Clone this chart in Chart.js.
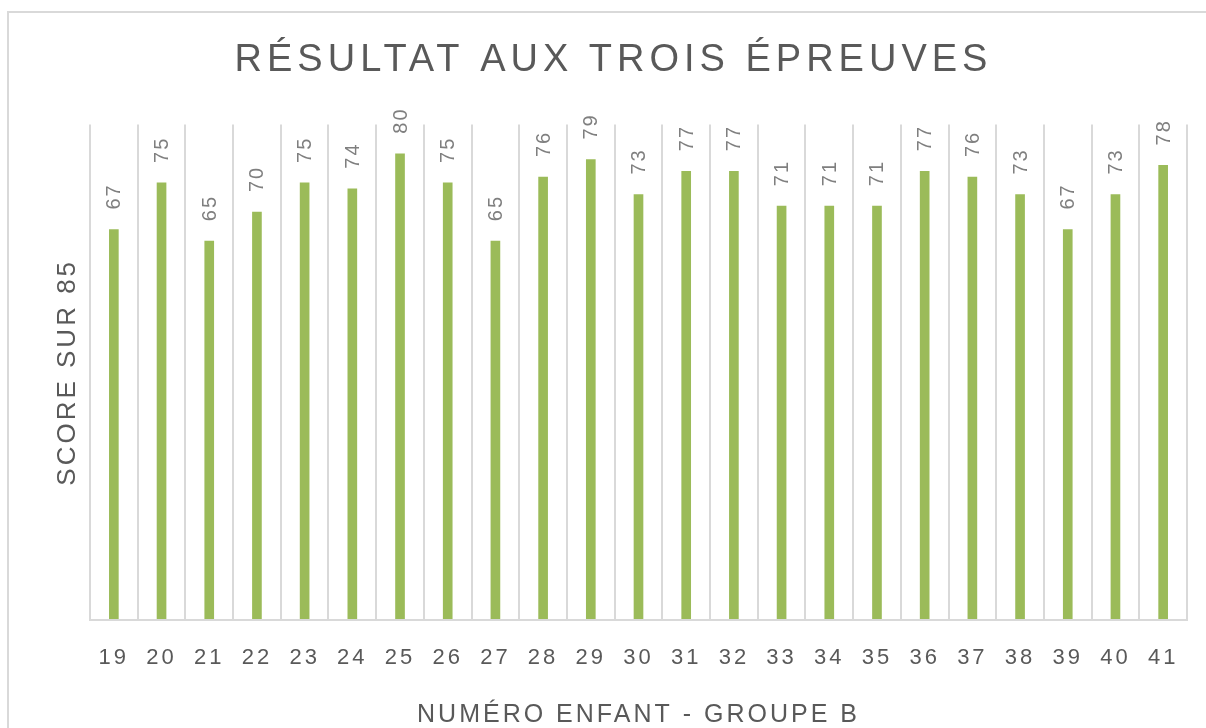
<!DOCTYPE html>
<html>
<head>
<meta charset="utf-8">
<script src="https://cdn.jsdelivr.net/npm/chart.js@4.4.0/dist/chart.umd.min.js"></script>
<style>
  html, body { margin: 0; padding: 0; background: #fff; overflow: hidden; }
  #frame { position: absolute; left: 7px; top: 11px; width: 1300px; height: 900px; border: 2px solid #d9d9d9; }
  #wrap { position: absolute; left: 0; top: 0; width: 1206px; height: 728px; }
</style>
</head>
<body>
<div id="frame"></div>
<div id="wrap"><canvas id="scoreChart"></canvas></div>
<script>
// numéros des enfants du groupe B
const enfants = ['19', '20', '21', '22', '23', '24', '25', '26', '27', '28', '29', '30',
                 '31', '32', '33', '34', '35', '36', '37', '38', '39', '40', '41'];
// score sur 85
const scores = [67, 75, 65, 70, 75, 74, 80, 75, 65, 76, 79, 73,
                77, 77, 71, 71, 71, 77, 76, 73, 67, 73, 78];

const FONT = "'Liberation Sans', Arial, sans-serif";

// espacement des lettres (canvas letterSpacing) + étiquettes de données verticales
const spacingPlugin = {
    id: 'spacing',
    beforeDraw(chart) {
        chart.ctx.letterSpacing = '5px';
    },
    afterDatasetsDraw(chart) {
        const ctx = chart.ctx;
        const meta = chart.getDatasetMeta(0);
        ctx.save();
        ctx.letterSpacing = '2px';
        ctx.font = '20px ' + FONT;
        ctx.fillStyle = '#7f7f7f';
        ctx.textAlign = 'left';
        ctx.textBaseline = 'middle';
        meta.data.forEach(function(bar, i) {
            ctx.save();
            ctx.translate(bar.x + 1, bar.y - 20);
            ctx.rotate(-Math.PI / 2);
            ctx.fillText(String(scores[i]), 0, 0);
            ctx.restore();
        });
        ctx.restore();
        // ticks + titres d'axes dessinés après (z > 0)
        ctx.letterSpacing = '3px';
    }
};

function initializeChart() {
    const ctx = document.getElementById('scoreChart').getContext('2d');
    new Chart(ctx, {
        type: 'bar',
        data: {
            labels: enfants,
            datasets: [{
                label: 'Score',
                data: scores,
                backgroundColor: '#9bbb59',
                borderWidth: 0,
                barThickness: 9
            }]
        },
        options: {
            responsive: true,
            maintainAspectRatio: false,
            animation: false,
            layout: { padding: { left: 40, right: 19, top: 0, bottom: 0 } },
            plugins: {
                legend: { display: false },
                tooltip: { enabled: false },
                title: {
                    display: true,
                    text: 'RÉSULTAT AUX TROIS ÉPREUVES',
                    color: '#595959',
                    font: { family: FONT, size: 38, weight: 'normal', lineHeight: 1.2 },
                    padding: { top: 38, bottom: 41 }
                }
            },
            scales: {
                x: {
                    grid: { color: '#d9d9d9', lineWidth: 2, drawTicks: false, offset: true, z: 1 },
                    border: { color: '#d9d9d9', width: 2, z: 1 },
                    ticks: {
                        color: '#595959',
                        font: { family: FONT, size: 22 },
                        padding: 25,
                        maxRotation: 0,
                        autoSkip: false,
                        z: 2
                    },
                    title: {
                        display: true,
                        text: 'NUMÉRO ENFANT - GROUPE B',
                        color: '#595959',
                        font: { family: FONT, size: 25, lineHeight: 1 },
                        padding: 0
                    },
                    afterFit(scale) { scale.height = 108; }
                },
                y: {
                    min: 0,
                    max: 85,
                    grid: { display: false, z: 1 },
                    border: { display: false, z: 1 },
                    ticks: { display: false },
                    title: {
                        display: true,
                        text: 'SCORE SUR 85',
                        color: '#595959',
                        font: { family: FONT, size: 26, lineHeight: 1.2 },
                        padding: { top: 12, bottom: 0 }
                    },
                    afterFit(scale) { scale.width = 50; }
                }
            }
        },
        plugins: [spacingPlugin]
    });
}

if (document.readyState === 'loading') {
    document.addEventListener('DOMContentLoaded', initializeChart);
} else {
    initializeChart();
}
</script>
</body>
</html>
